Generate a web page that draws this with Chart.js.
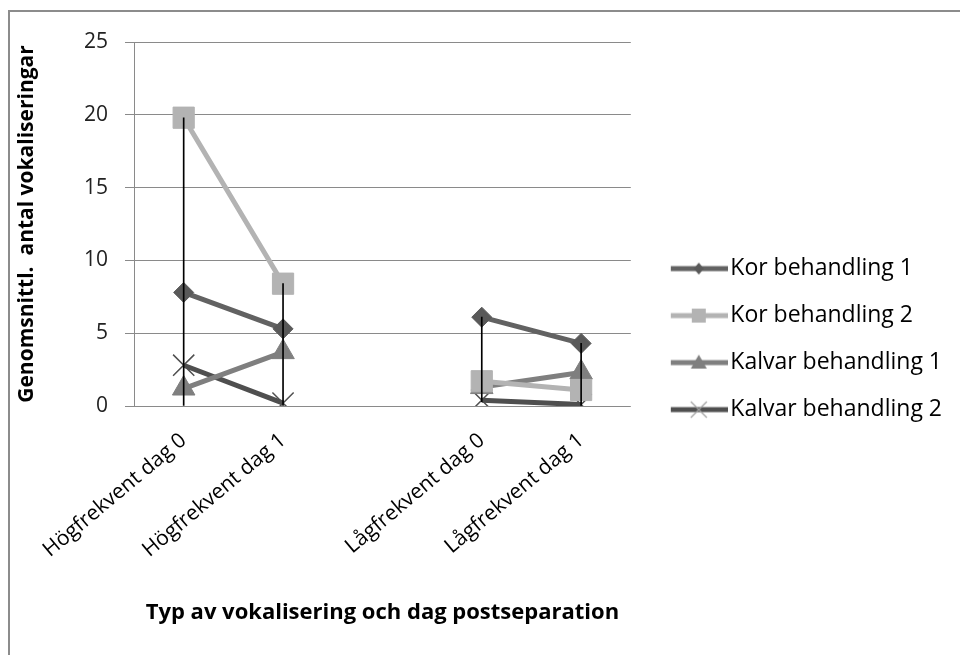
<!DOCTYPE html>
<html>
<head>
<meta charset="utf-8">
<script src="https://cdn.jsdelivr.net/npm/chart.js@4.4.1/dist/chart.umd.min.js"></script>
<style>
  html, body { margin: 0; padding: 0; background: #fff; }
  #ram { position: absolute; left: 8px; top: 10px; width: 1000px; height: 700px; border: 2px solid #8c8c8c; }
  #wrap { position: absolute; left: 0; top: 0; width: 960px; height: 655px; }
</style>
</head>
<body>
<div id="ram"></div>
<div id="wrap"><canvas id="graf"></canvas></div>
<script>
// kategorier (tom plats i mitten)
const kategorier = ["Högfrekvent dag 0", "Högfrekvent dag 1", "", "Lågfrekvent dag 0", "Lågfrekvent dag 1"];

// medelvärden
const korBeh1 = [7.8, 5.3, null, 6.1, 4.3];
const korBeh2 = [19.8, 8.4, null, 1.7, 1.1];
const kalvarBeh1 = [1.2, 3.7, null, 1.3, 2.3];
const kalvarBeh2 = [2.8, 0.2, null, 0.4, 0.1];

// nedre ände av de svarta lodräta linjerna
const linjeLag = [0, 0, null, 0.3, 0];

const yTicks = [0, 5, 10, 15, 20, 25];

const serier = [
    { namn: "Kor behandling 1", data: korBeh1, farg: "#626262", mark: "#595959", stil: "rectRot", r: 10, bw: 1 },
    { namn: "Kor behandling 2", data: korBeh2, farg: "#b3b3b3", mark: "#b3b3b3", stil: "rect", r: 15, bw: 1 },
    { namn: "Kalvar behandling 1", data: kalvarBeh1, farg: "#7f7f7f", mark: "#7f7f7f", stil: "triangle", r: 13, bw: 1 },
    { namn: "Kalvar behandling 2", data: kalvarBeh2, farg: "#4f4f4f", mark: "#4f4f4f", stil: "crossRot", r: 15, bw: 1.5 }
];

const linjeHog = kategorier.map((k, i) => {
    const v = serier.map(s => s.data[i]).filter(x => x != null);
    return v.length ? Math.max(...v) : null;
});
const hogLag = linjeHog.map((h, i) => h == null ? null : [linjeLag[i], h]);

// legendsymbol: linje med markör (bilden är bredare än linjen för att hamna rätt)
function legendIkon(s) {
    const c = document.createElement("canvas");
    c.width = 82; c.height = 20;
    const ctx = c.getContext("2d");
    ctx.strokeStyle = s.farg;
    ctx.lineWidth = 5;
    ctx.beginPath(); ctx.moveTo(25, 10); ctx.lineTo(82, 10); ctx.stroke();
    ctx.fillStyle = s.mark;
    const x = 53, y = 10;
    if (s.stil === "rectRot") {
        ctx.beginPath(); ctx.moveTo(x, y - 6); ctx.lineTo(x + 5, y); ctx.lineTo(x, y + 6); ctx.lineTo(x - 5, y); ctx.closePath(); ctx.fill();
    } else if (s.stil === "rect") {
        ctx.fillRect(x - 7, y - 7, 14, 14);
    } else if (s.stil === "triangle") {
        ctx.beginPath(); ctx.moveTo(x, y - 8); ctx.lineTo(x + 8, y + 6); ctx.lineTo(x - 8, y + 6); ctx.closePath(); ctx.fill();
    } else {
        ctx.strokeStyle = "#a0a0a0"; ctx.lineWidth = 1.2;
        ctx.beginPath(); ctx.moveTo(x - 8, y - 8); ctx.lineTo(x + 8, y + 8); ctx.moveTo(x + 8, y - 8); ctx.lineTo(x - 8, y + 8); ctx.stroke();
    }
    return c;
}
const ikoner = serier.map(legendIkon);

const datasets = [{
    type: "bar",
    label: "hoglag",
    data: hogLag,
    backgroundColor: "#000",
    barThickness: 1,
    order: 0
}].concat(serier.map(s => ({
    type: "line",
    label: s.namn,
    data: s.data,
    borderColor: s.farg,
    borderWidth: 5,
    backgroundColor: s.mark,
    pointBackgroundColor: s.mark,
    pointBorderColor: s.mark,
    pointBorderWidth: s.bw,
    pointStyle: s.stil,
    pointRadius: s.r,
    pointHoverRadius: s.r,
    spanGaps: false,
    tension: 0,
    order: 1
})));

new Chart(document.getElementById("graf"), {
    type: "line",
    data: { labels: kategorier, datasets: datasets },
    options: {
        responsive: true,
        maintainAspectRatio: false,
        animation: false,
        layout: { padding: { left: 14, top: 42, right: 8, bottom: 29 } },
        plugins: {
            tooltip: { enabled: false },
            legend: {
                position: "right",
                maxWidth: 400,
                title: { display: true, text: "", font: { size: 1 }, padding: { top: 0, bottom: 9 } },
                labels: {
                    usePointStyle: true,
                    pointStyleWidth: 64,
                    padding: 24,
                    color: "#000",
                    font: { family: "Open Sans", size: 23 },
                    generateLabels: () => serier.map((s, i) => ({
                        text: s.namn,
                        pointStyle: ikoner[i],
                        fontColor: "#000",
                        lineWidth: 0,
                        hidden: false,
                        datasetIndex: i + 1
                    }))
                }
            }
        },
        scales: {
            x: {
                offset: true,
                afterFit: ax => { ax.height = 220; },
                grid: { display: false, offset: true },
                border: { display: false },
                ticks: {
                    maxRotation: 40, minRotation: 40, padding: 14,
                    color: "#000",
                    font: { family: "Open Sans", size: 21 }
                },
                title: {
                    display: true,
                    text: "Typ av vokalisering och dag postseparation",
                    color: "#000",
                    font: { family: "Open Sans", size: 22, weight: "bold" },
                    padding: { top: 17, bottom: 0 }
                }
            },
            y: {
                min: 0, max: 25,
                afterFit: ax => { ax.width = 120; },
                afterBuildTicks: ax => { ax.ticks = yTicks.map(v => ({ value: v })); },
                grid: { color: "#8a8a8a", lineWidth: 1, tickLength: 9 },
                border: { display: true, color: "#8a8a8a" },
                ticks: {
                    padding: 17,
                    color: "#222",
                    font: { family: "Open Sans", size: 21 }
                },
                title: {
                    display: true,
                    text: "Genomsnittl.  antal vokaliseringar",
                    color: "#000",
                    font: { family: "Open Sans", size: 21, weight: "bold" },
                    padding: { top: 0, bottom: 40 }
                }
            }
        }
    }
});
</script>
</body>
</html>
